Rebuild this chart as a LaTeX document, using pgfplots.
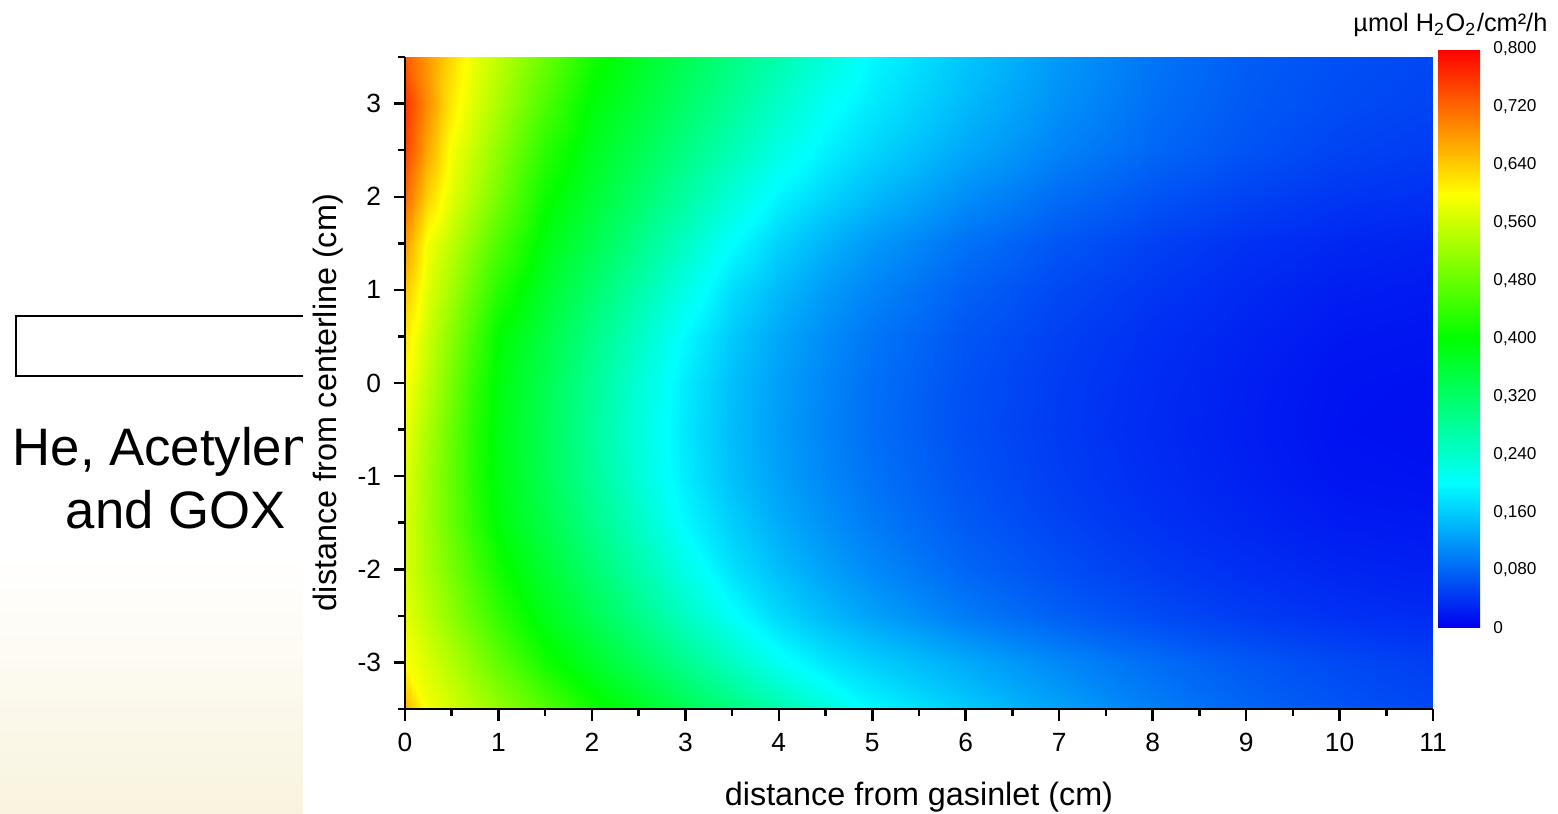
\documentclass[border=0pt]{standalone}
\usepackage{fontspec}
\setmainfont{Liberation Sans}
\usepackage{pgfplots}
\pgfplotsset{compat=1.18}
\begin{document}
\begin{tikzpicture}[x=0.1mm,y=0.1mm]
\fill[white] (0,0) rectangle (1558,813);
\shade[top color=white, bottom color={rgb,255:red,249;green,244;blue,222}] (0,0) rectangle (303,260);
\draw[line width=0.22mm] (303,437) -- (16,437) -- (16,497) -- (303,497);
\node[anchor=base west, inner sep=0, font=\fontsize{15}{18}\selectfont] at (12,348) {He, Acetylene};
\node[anchor=base west, inner sep=0, font=\fontsize{15}{18}\selectfont] at (65,285) {and GOX};
\fill[white] (303,0) rectangle (1558,813);
\begin{axis}[
  at={(40.5mm,10.4mm)}, anchor=south west,
  scale only axis, width=102.8mm, height=65.2mm,
  view={0}{90},
  xmin=0, xmax=11, ymin=-3.5, ymax=3.5,
  axis x line*=bottom, axis y line*=left,
  axis line style={line width=0.25mm, black},
  xtick={0,1,...,11}, ytick={-3,-2,...,3},
  minor xtick={0.5,1.5,...,10.5}, minor ytick={-3.5,-2.5,...,3.5},
  ztick=\empty,
  tick align=outside,
  major tick length=1.15mm, minor tick length=0.7mm,
  every tick/.style={line width=0.25mm, black},
  /pgf/number format/assume math mode=true,
  tick label style={font=\fontsize{7.5}{9}\selectfont},
  xlabel={distance from gasinlet (cm)},
  ylabel={distance from centerline (cm)},
  label style={font=\fontsize{9.2}{11}\selectfont},
  xlabel style={at={(axis description cs:0.5,-0.135)}, anchor=center},
  ylabel style={at={(axis description cs:-0.075,0.47)}, anchor=center},
  colormap={jetlike}{rgb255(0cm)=(0,0,240); rgb255(1cm)=(0,255,255); rgb255(2cm)=(0,255,0); rgb255(3cm)=(255,255,0); rgb255(4cm)=(255,0,0)},
  point meta min=0, point meta max=0.8,
  colorbar,
  colorbar style={
    at={(140.8mm,76.4mm)}, anchor=north west,
    scale only axis, width=4.2mm, height=57.9mm,
    ytick={0,0.08,0.16,0.24,0.32,0.4,0.48,0.56,0.64,0.72,0.8},
    yticklabels={0,{0,080},{0,160},{0,240},{0,320},{0,400},{0,480},{0,560},{0,640},{0,720},{0,800}},
    major tick length=0mm,
    axis line style={draw=none},
    yticklabel style={font=\fontsize{4.9}{6}\selectfont, xshift=0.1mm},
  },
]
\addplot3[surf, shader=interp, mesh/cols=19] table[x=x, y=y, z=v] {
x y v
0 -3.5 0.660
0.25 -3.5 0.590
0.5 -3.5 0.565
0.75 -3.5 0.540
1 -3.5 0.515
1.5 -3.5 0.465
2 -3.5 0.415
2.5 -3.5 0.375
3 -3.5 0.338
3.5 -3.5 0.302
4 -3.5 0.265
4.5 -3.5 0.229
5 -3.5 0.196
6 -3.5 0.160
7 -3.5 0.128
8 -3.5 0.100
9 -3.5 0.080
10 -3.5 0.066
11 -3.5 0.056
0 -3 0.600
0.25 -3 0.569
0.5 -3 0.538
0.75 -3 0.506
1 -3 0.475
1.5 -3 0.413
2 -3 0.368
2.5 -3 0.328
3 -3 0.288
3.5 -3 0.248
4 -3 0.208
4.5 -3 0.180
5 -3 0.162
6 -3 0.133
7 -3 0.107
8 -3 0.086
9 -3 0.069
10 -3 0.057
11 -3 0.049
0 -2.5 0.580
0.25 -2.5 0.545
0.5 -2.5 0.510
0.75 -2.5 0.474
1 -2.5 0.439
1.5 -2.5 0.381
2 -2.5 0.337
2.5 -2.5 0.293
3 -2.5 0.248
3.5 -2.5 0.204
4 -2.5 0.170
4.5 -2.5 0.146
5 -2.5 0.127
6 -2.5 0.097
7 -2.5 0.075
8 -2.5 0.059
9 -2.5 0.047
10 -2.5 0.038
11 -2.5 0.033
0 -2 0.570
0.25 -2 0.531
0.5 -2 0.491
0.75 -2 0.452
1 -2 0.413
1.5 -2 0.360
2 -2 0.313
2.5 -2 0.266
3 -2 0.219
3.5 -2 0.176
4 -2 0.148
4.5 -2 0.126
5 -2 0.108
6 -2 0.080
7 -2 0.061
8 -2 0.047
9 -2 0.036
10 -2 0.028
11 -2 0.025
0 -1.5 0.570
0.25 -1.5 0.524
0.5 -1.5 0.479
0.75 -1.5 0.433
1 -1.5 0.393
1.5 -1.5 0.344
2 -1.5 0.294
2.5 -1.5 0.245
3 -1.5 0.196
3.5 -1.5 0.162
4 -1.5 0.135
4.5 -1.5 0.114
5 -1.5 0.097
6 -1.5 0.071
7 -1.5 0.053
8 -1.5 0.039
9 -1.5 0.029
10 -1.5 0.021
11 -1.5 0.019
0 -1 0.575
0.25 -1 0.525
0.5 -1 0.476
0.75 -1 0.426
1 -1 0.388
1.5 -1 0.335
2 -1 0.283
2.5 -1 0.231
3 -1 0.185
3.5 -1 0.151
4 -1 0.126
4.5 -1 0.106
5 -1 0.090
6 -1 0.065
7 -1 0.048
8 -1 0.035
9 -1 0.025
10 -1 0.016
11 -1 0.014
0 -0.5 0.585
0.25 -0.5 0.532
0.5 -0.5 0.480
0.75 -0.5 0.427
1 -0.5 0.387
1.5 -0.5 0.334
2 -0.5 0.280
2.5 -0.5 0.227
3 -0.5 0.182
3.5 -0.5 0.148
4 -0.5 0.123
4.5 -0.5 0.103
5 -0.5 0.087
6 -0.5 0.062
7 -0.5 0.046
8 -0.5 0.033
9 -0.5 0.023
10 -0.5 0.014
11 -0.5 0.012
0 0 0.600
0.25 0 0.546
0.5 0 0.491
0.75 0 0.437
1 0 0.391
1.5 0 0.338
2 0 0.285
2.5 0 0.232
3 0 0.185
3.5 0 0.150
4 0 0.125
4.5 0 0.105
5 0 0.088
6 0 0.063
7 0 0.047
8 0 0.034
9 0 0.024
10 0 0.015
11 0 0.013
0 0.5 0.620
0.25 0.5 0.558
0.5 0.5 0.505
0.75 0.5 0.453
1 0.5 0.400
1.5 0.5 0.349
2 0.5 0.297
2.5 0.5 0.246
3 0.5 0.196
3.5 0.5 0.158
4 0.5 0.131
4.5 0.5 0.110
5 0.5 0.093
6 0.5 0.067
7 0.5 0.050
8 0.5 0.037
9 0.5 0.027
10 0.5 0.018
11 0.5 0.016
0 1 0.645
0.25 1 0.575
0.5 1 0.526
0.75 1 0.478
1 1 0.429
1.5 1 0.366
2 1 0.317
2.5 1 0.268
3 1 0.220
3.5 1 0.174
4 1 0.145
4.5 1 0.122
5 1 0.104
6 1 0.076
7 1 0.057
8 1 0.043
9 1 0.032
10 1 0.023
11 1 0.020
0 1.5 0.680
0.25 1.5 0.591
0.5 1.5 0.548
0.75 1.5 0.504
1 1.5 0.461
1.5 1.5 0.386
2 1.5 0.340
2.5 1.5 0.293
3 1.5 0.247
3.5 1.5 0.200
4 1.5 0.165
4.5 1.5 0.140
5 1.5 0.120
6 1.5 0.089
7 1.5 0.067
8 1.5 0.051
9 1.5 0.039
10 1.5 0.030
11 1.5 0.026
0 2 0.720
0.25 2 0.634
0.5 2 0.575
0.75 2 0.533
1 2 0.492
1.5 2 0.408
2 2 0.361
2.5 2 0.317
3 2 0.274
3.5 2 0.230
4 2 0.192
4.5 2 0.167
5 2 0.146
6 2 0.111
7 2 0.085
8 2 0.066
9 2 0.052
10 2 0.042
11 2 0.037
0 2.5 0.750
0.25 2.5 0.667
0.5 2.5 0.592
0.75 2.5 0.552
1 2.5 0.512
1.5 2.5 0.432
2 2.5 0.376
2.5 2.5 0.337
3 2.5 0.298
3.5 2.5 0.259
4 2.5 0.220
4.5 2.5 0.190
5 2.5 0.168
6 2.5 0.132
7 2.5 0.103
8 2.5 0.081
9 2.5 0.065
10 2.5 0.053
11 2.5 0.047
0 3 0.760
0.25 3 0.687
0.5 3 0.615
0.75 3 0.570
1 3 0.533
1.5 3 0.459
2 3 0.393
2.5 3 0.356
3 3 0.319
3.5 3 0.281
4 3 0.244
4.5 3 0.207
5 3 0.184
6 3 0.145
7 3 0.113
8 3 0.088
9 3 0.070
10 3 0.059
11 3 0.053
0 3.5 0.730
0.25 3.5 0.678
0.5 3.5 0.627
0.75 3.5 0.584
1 3.5 0.550
1.5 3.5 0.482
2 3.5 0.414
2.5 3.5 0.371
3 3.5 0.336
3.5 3.5 0.300
4 3.5 0.264
4.5 3.5 0.229
5 3.5 0.195
6 3.5 0.155
7 3.5 0.120
8 3.5 0.092
9 3.5 0.073
10 3.5 0.062
11 3.5 0.056
};
\end{axis}
\node[anchor=base east, inner sep=0, font=\fontsize{7.2}{9}\selectfont] at (1548,781) {µmol H\textsubscript{2}O\textsubscript{2}/cm²/h};
\pgfresetboundingbox
\path[use as bounding box] (0,0) rectangle (1558,813);
\end{tikzpicture}
\end{document}
